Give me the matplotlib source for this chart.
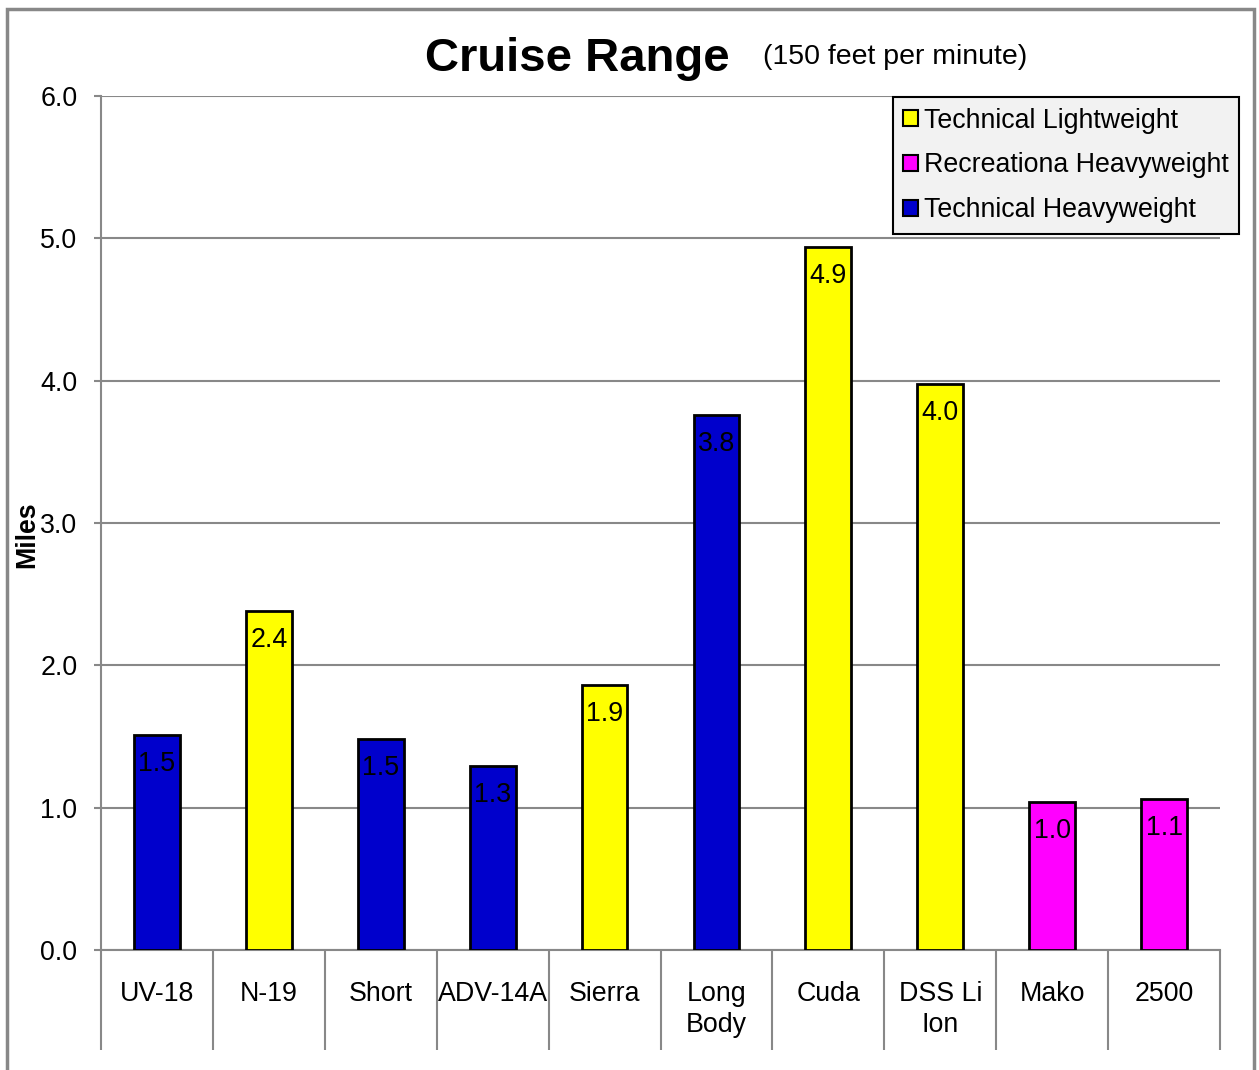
import matplotlib.pyplot as plt
from matplotlib.patches import Patch, Rectangle

plt.rcParams['font.family'] = ['Liberation Sans', 'DejaVu Sans']

# data
models = ['UV-18', 'N-19', 'Short', 'ADV-14A', 'Sierra', 'Long\nBody', 'Cuda', 'DSS Li\nIon', 'Mako', '2500']
miles = [1.51, 2.38, 1.48, 1.29, 1.86, 3.76, 4.94, 3.98, 1.04, 1.06]
groups = ['TH', 'TL', 'TH', 'TH', 'TL', 'TH', 'TL', 'TL', 'RH', 'RH']

group_names = {'TL': 'Technical Lightweight',
               'RH': 'Recreationa Heavyweight',
               'TH': 'Technical Heavyweight'}
group_colors = {'TL': '#FFFF00', 'RH': '#FF00FF', 'TH': '#0000CC'}

fs = 19.3

fig = plt.figure(figsize=(12.59, 10.70), dpi=100)
ax = fig.add_axes([101 / 1259, 1 - 950 / 1070, 1119 / 1259, 854 / 1070])

x = list(range(len(models)))
colors = [group_colors[g] for g in groups]
ax.bar(x, miles, width=0.41, color=colors, edgecolor='black', linewidth=2, zorder=3)

# value labels just inside the top of each bar
for xi, v in zip(x, miles):
    ax.annotate(f'{v:.1f}', (xi, v), xytext=(0, -29), textcoords='offset pixels',
                ha='center', va='center', fontsize=fs, color='black', zorder=4)

ax.set_xlim(-0.5, len(models) - 0.5)
ax.set_ylim(0, 6)
ax.set_yticks([0, 1, 2, 3, 4, 5, 6])
ax.set_yticklabels([f'{t:.1f}' for t in range(7)])
ax.yaxis.grid(True, color='#888888', linewidth=1.5, zorder=0)

# category separators as long major ticks, labels on minor ticks
ax.set_xticks([i - 0.5 for i in range(len(models) + 1)])
ax.set_xticklabels([])
ax.set_xticks(x, minor=True)
ax.set_xticklabels(models, minor=True, fontsize=fs, linespacing=1.25)
ax.tick_params(axis='x', which='major', length=72, width=1.5, color='#888888')
ax.tick_params(axis='x', which='minor', length=0, pad=22)
ax.tick_params(axis='y', length=5, width=1.5, color='#888888', labelsize=fs, pad=12)

for side in ['top', 'right']:
    ax.spines[side].set_visible(False)
for side in ['left', 'bottom']:
    ax.spines[side].set_color('#888888')
    ax.spines[side].set_linewidth(1.5)

ax.set_ylabel('Miles', fontsize=fs, fontweight='bold')
ax.yaxis.set_label_coords(40 / 1259, 0.5, transform=fig.transFigure)

fig.text(577 / 1259, 1 - 59 / 1070, 'Cruise Range', fontsize=34, fontweight='bold',
         ha='center', va='center')
fig.text(895 / 1259, 1 - 57 / 1070, '(150 feet per minute)', fontsize=20.5,
         ha='center', va='center')

handles = [Patch(facecolor=group_colors[k], edgecolor='black', linewidth=1.5, label=group_names[k])
           for k in ['TL', 'RH', 'TH']]
leg = fig.legend(handles=handles, loc='upper right', bbox_to_anchor=(1239 / 1259, 1 - 97 / 1070),
                 fontsize=fs, frameon=True, fancybox=False, handlelength=0.55, handleheight=0.55,
                 handletextpad=0.2, borderpad=0.4, labelspacing=0.7, borderaxespad=0)
leg.get_frame().set_facecolor('#F2F2F2')
leg.get_frame().set_edgecolor('black')
leg.get_frame().set_linewidth(1.5)
leg.get_frame().set_alpha(1)

# outer chart border
fig.patches.append(Rectangle((7 / 1259, -0.01), 1247 / 1259, 1.01 - 9 / 1070,
                             transform=fig.transFigure, fill=False,
                             edgecolor='#888888', linewidth=2.5))

fig.savefig('out.png', dpi=100)
